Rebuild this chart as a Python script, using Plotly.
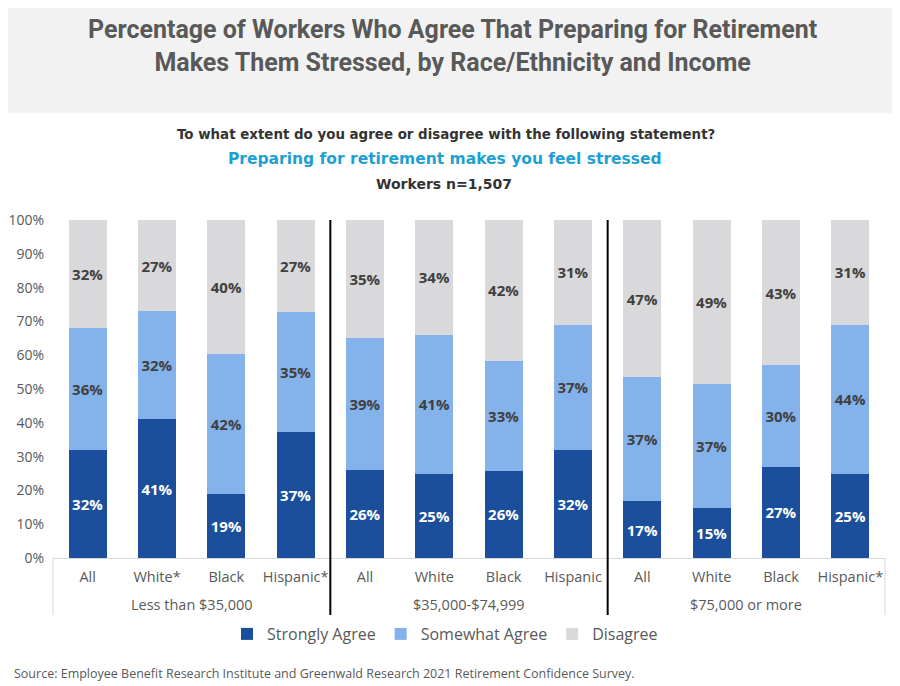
import plotly.graph_objects as go

categories = ["All", "White*", "Black", "Hispanic*",
              "All", "White", "Black", "Hispanic",
              "All", "White", "Black", "Hispanic*"]
groups = ["Less than $35,000", "$35,000-$74,999", "$75,000 or more"]
strongly_agree = [32, 41, 19, 37, 26, 25, 26, 32, 17, 15, 27, 25]
somewhat_agree = [36, 32, 42, 35, 39, 41, 33, 37, 37, 37, 30, 44]
disagree = [32, 27, 40, 27, 35, 34, 42, 31, 47, 49, 43, 31]
y_ticks = [0, 10, 20, 30, 40, 50, 60, 70, 80, 90, 100]

# page has an 8px body margin; figure is sized to fit the 900x686 window
OFF = 8
W, H = 900 - OFF, 686 - OFF
ML, MR, MT, MB = 45, 15, 212, 128
PW, PH = W - ML - MR, H - MT - MB

def px(x):  # screen x -> paper
    return (x - OFF - ML) / PW

def py(y):  # screen y -> paper
    return 1 - (y - OFF - MT) / PH

FONT = "'Open Sans', 'Noto Sans', sans-serif"
GREY = "#595959"
xs = list(range(len(categories)))

fig = go.Figure()
series = [
    ("Strongly Agree", strongly_agree, "#1c4f9b", "white"),
    ("Somewhat Agree", somewhat_agree, "#84b3ec", "#404040"),
    ("Disagree", disagree, "#d9d8da", "#404040"),
]
for name, vals, color, tcol in series:
    fig.add_trace(go.Bar(
        x=xs, y=vals, name=name, marker_color=color, marker_line_width=0,
        text=[f"{v}%" for v in vals], textposition="inside",
        insidetextanchor="middle", textangle=0,
        textfont=dict(family=FONT, size=15, color=tcol, weight="bold"),
        hoverinfo="skip",
    ))

fig.update_layout(
    barmode="stack", barnorm="percent", bargap=0.45,
    width=W, height=H, autosize=False,
    margin=dict(l=ML, r=MR, t=MT, b=MB, autoexpand=False),
    paper_bgcolor="white", plot_bgcolor="white",
    font=dict(family=FONT, color=GREY, size=14.5),
    showlegend=True,
    legend=dict(orientation="h", x=px(445), xanchor="center",
                y=py(634), yanchor="middle", font=dict(size=16, color=GREY),
                traceorder="normal"),
    xaxis=dict(tickmode="array", tickvals=xs, ticktext=categories,
               range=[-0.5, len(categories) - 0.5], showgrid=False,
               showline=True, linecolor="#d9d9d9", linewidth=1,
               ticks="", tickangle=0, ticklabelstandoff=6,
               tickfont=dict(size=14.5, color=GREY),
               zeroline=False, automargin=False),
    yaxis=dict(range=[0, 100], tickmode="array", tickvals=y_ticks,
               ticktext=[f"{v}%" for v in y_ticks], showgrid=False,
               zeroline=False, showline=False, ticks="", automargin=False,
               ticklabelstandoff=8,
               tickfont=dict(size=14, color=GREY)),
)

shapes = []
shapes.append(dict(type="rect", xref="paper", yref="paper",
                   x0=px(0), x1=px(900), y0=py(113), y1=py(0),
                   fillcolor="#f2f2f2", line_width=0, layer="below"))
for xx in (53, 885):
    shapes.append(dict(type="line", xref="paper", yref="paper",
                       x0=px(xx), x1=px(xx), y0=py(558), y1=py(615),
                       line=dict(color="#d9d9d9", width=1)))
for sep in (3.5, 7.5):
    shapes.append(dict(type="line", xref="x", yref="paper",
                       x0=sep, x1=sep, y0=py(615), y1=1,
                       line=dict(color="black", width=2)))
fig.update_layout(shapes=shapes)

anns = []
for i, g in enumerate(groups):
    anns.append(dict(text=g, xref="x", yref="paper", x=1.5 + 4 * i, y=py(604),
                     showarrow=False, yanchor="middle",
                     font=dict(size=14.5, color=GREY)))
anns.append(dict(text="<b>Percentage of Workers Who Agree That Preparing for Retirement<br>Makes Them Stressed, by Race/Ethnicity and Income</b>",
                 xref="paper", yref="paper", x=px(452), y=py(46),
                 showarrow=False, xanchor="center", yanchor="middle",
                 font=dict(family="Roboto, sans-serif", size=25, color=GREY)))
anns.append(dict(text="<b>To what extent do you agree or disagree with the following statement?</b>",
                 xref="paper", yref="paper", x=px(446), y=py(135),
                 showarrow=False, yanchor="middle",
                 font=dict(family="'DejaVu Sans', sans-serif", size=13.4, color="#333333")))
anns.append(dict(text="<b>Preparing for retirement makes you feel stressed</b>",
                 xref="paper", yref="paper", x=px(445), y=py(159),
                 showarrow=False, yanchor="middle",
                 font=dict(family="'DejaVu Sans', sans-serif", size=15.5, color="#1fa0d2")))
anns.append(dict(text="<b>Workers n=1,507</b>",
                 xref="paper", yref="paper", x=px(444), y=py(184),
                 showarrow=False, yanchor="middle",
                 font=dict(family="'DejaVu Sans', sans-serif", size=14, color="#333333")))
anns.append(dict(text="Source: Employee Benefit Research Institute and Greenwald Research 2021 Retirement Confidence Survey.",
                 xref="paper", yref="paper", x=px(12), y=py(673),
                 showarrow=False, xanchor="left", yanchor="middle",
                 font=dict(size=12.5, color=GREY)))
fig.update_layout(annotations=anns)

fig.write_html("out.html")
